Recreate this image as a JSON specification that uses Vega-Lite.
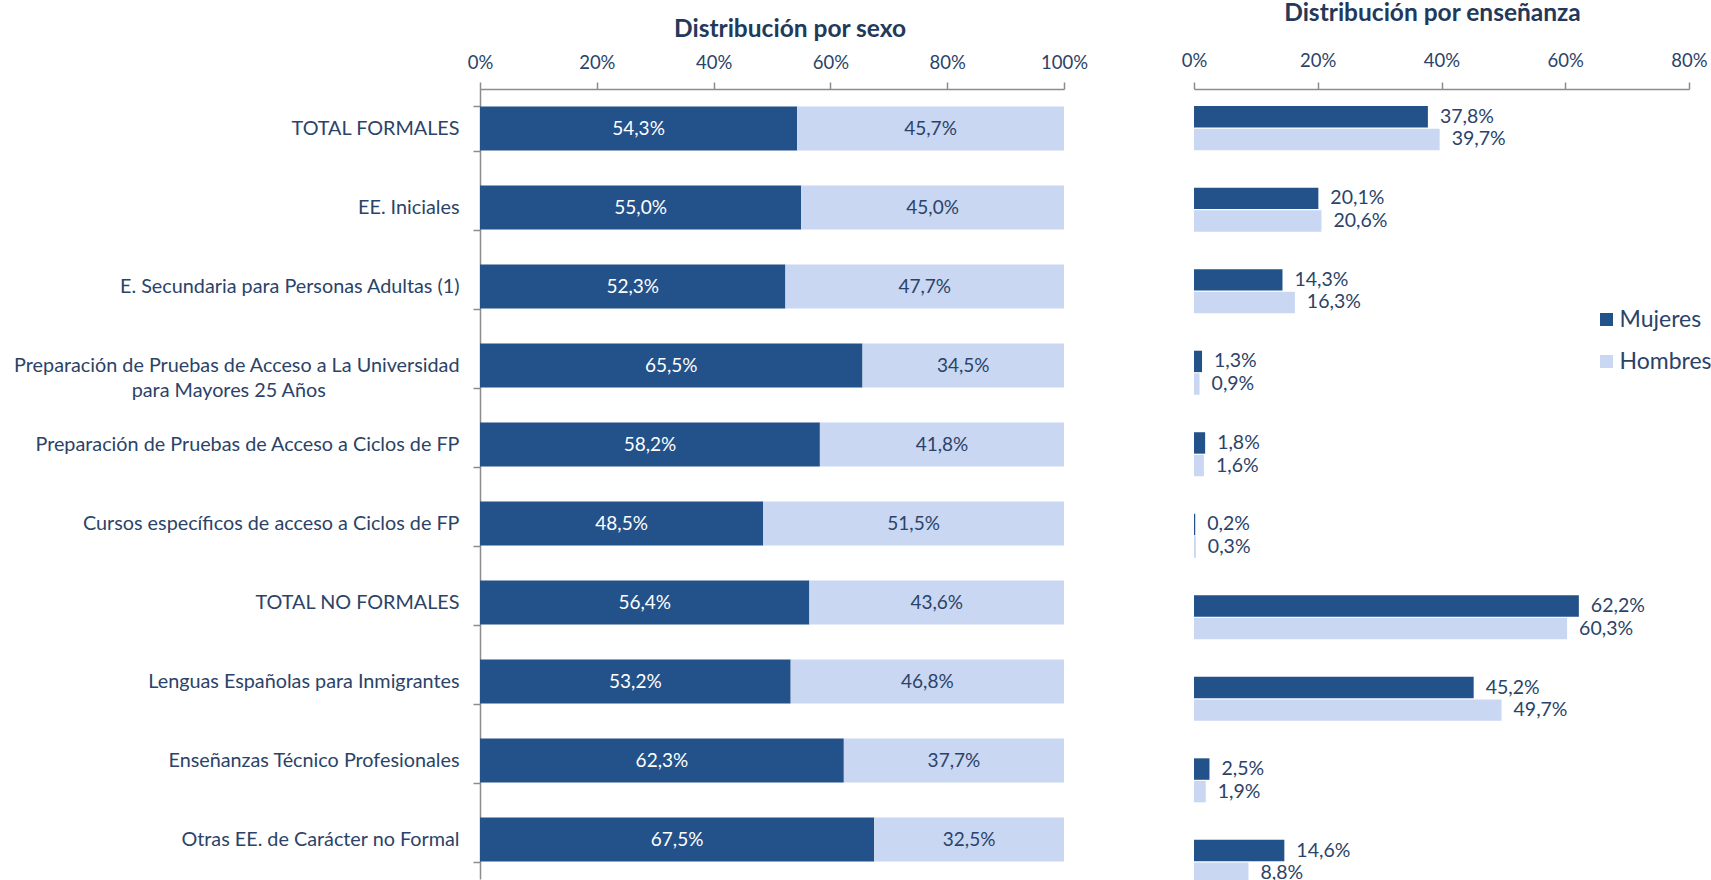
{
  "$schema": "https://vega.github.io/schema/vega-lite/v6.json",
  "autosize": "none",
  "padding": {"left": 480, "top": 89, "right": 1231, "bottom": 791},
  "background": "white",
  "config": {
    "locale": {"number": {"decimal": ",", "thousands": ".", "grouping": [3], "currency": ["", " €"]}},
    "view": {"stroke": null},
    "font": "Lato",
    "axis": {"grid": false, "title": null, "domainColor": "#8C8C8C", "domainWidth": 1.5, "tickColor": "#8C8C8C", "tickWidth": 1.5, "tickSize": 7, "labelFontSize": 18.5, "labelColor": "#2B4368", "labelOverlap": false}
  },
  "datasets": {
    "d": [
      {"cat": "TOTAL FORMALES", "sex": "Mujeres", "share": 0.543, "dist": 0.378},
      {"cat": "TOTAL FORMALES", "sex": "Hombres", "share": 0.457, "dist": 0.397},
      {"cat": "EE. Iniciales", "sex": "Mujeres", "share": 0.550, "dist": 0.201},
      {"cat": "EE. Iniciales", "sex": "Hombres", "share": 0.450, "dist": 0.206},
      {"cat": "E. Secundaria para Personas Adultas (1)", "sex": "Mujeres", "share": 0.523, "dist": 0.143},
      {"cat": "E. Secundaria para Personas Adultas (1)", "sex": "Hombres", "share": 0.477, "dist": 0.163},
      {"cat": "Preparación de Pruebas de Acceso a La Universidad|para Mayores 25 Años", "sex": "Mujeres", "share": 0.655, "dist": 0.013},
      {"cat": "Preparación de Pruebas de Acceso a La Universidad|para Mayores 25 Años", "sex": "Hombres", "share": 0.345, "dist": 0.009},
      {"cat": "Preparación de Pruebas de Acceso a Ciclos de FP", "sex": "Mujeres", "share": 0.582, "dist": 0.018},
      {"cat": "Preparación de Pruebas de Acceso a Ciclos de FP", "sex": "Hombres", "share": 0.418, "dist": 0.016},
      {"cat": "Cursos específicos de acceso a Ciclos de FP", "sex": "Mujeres", "share": 0.485, "dist": 0.002},
      {"cat": "Cursos específicos de acceso a Ciclos de FP", "sex": "Hombres", "share": 0.515, "dist": 0.003},
      {"cat": "TOTAL NO FORMALES", "sex": "Mujeres", "share": 0.564, "dist": 0.622},
      {"cat": "TOTAL NO FORMALES", "sex": "Hombres", "share": 0.436, "dist": 0.603},
      {"cat": "Lenguas Españolas para Inmigrantes", "sex": "Mujeres", "share": 0.532, "dist": 0.452},
      {"cat": "Lenguas Españolas para Inmigrantes", "sex": "Hombres", "share": 0.468, "dist": 0.497},
      {"cat": "Enseñanzas Técnico Profesionales", "sex": "Mujeres", "share": 0.623, "dist": 0.025},
      {"cat": "Enseñanzas Técnico Profesionales", "sex": "Hombres", "share": 0.377, "dist": 0.019},
      {"cat": "Otras EE. de Carácter no Formal", "sex": "Mujeres", "share": 0.675, "dist": 0.146},
      {"cat": "Otras EE. de Carácter no Formal", "sex": "Hombres", "share": 0.325, "dist": 0.088}
    ]
  },
  "bounds": "flush",
  "spacing": 130,
  "resolve": {"legend": {"color": "independent"}},
  "hconcat": [
    {
      "width": 584,
      "height": 790,
      "title": {"text": "Distribución por sexo", "fontSize": 24.5, "fontWeight": "bold", "color": "#23395B", "offset": 11, "dx": 18, "anchor": "middle"},
      "data": {"name": "d"},
      "transform": [
        {"stack": "share", "groupby": ["cat"], "sort": [{"field": "sex", "order": "descending"}], "as": ["s0", "s1"]},
        {"calculate": "(datum.s0 + datum.s1) / 2", "as": "mid"}
      ],
      "encoding": {
        "y": {
          "field": "cat", "type": "nominal", "sort": null,
          "scale": {"paddingInner": 0.443, "paddingOuter": 0.2215},
          "axis": {
            "orient": "left", "tickBand": "extent", "labelPadding": 14, "labelLimit": 0, "labelLineHeight": 25,
            "labelFontSize": 19.8, "labelAlign": "right", "labelBaseline": "middle",
            "labelExpr": "indexof(datum.label, '|') >= 0 ? [split(datum.label, '|')[0], split(datum.label, '|')[1] + '\u2007\u2007\u2007\u2007\u2007\u2007\u2007\u2007\u2007\u2007\u2007\u00a0\u2009\u200b'] : datum.label"
          }
        }
      },
      "layer": [
        {
          "mark": {"type": "bar"},
          "encoding": {
            "x": {"field": "s0", "type": "quantitative", "scale": {"domain": [0, 1]},
                  "axis": {"orient": "top", "format": "%", "values": [0, 0.2, 0.4, 0.6, 0.8, 1], "labelPadding": 10, "labelFlush": false}},
            "x2": {"field": "s1"},
            "color": {"field": "sex", "type": "nominal", "scale": {"domain": ["Mujeres", "Hombres"], "range": ["#23518A", "#C9D7F2"]}, "legend": null}
          }
        },
        {
          "mark": {"type": "text", "fontSize": 19, "baseline": "middle"},
          "encoding": {
            "x": {"field": "mid", "type": "quantitative"},
            "text": {"field": "share", "type": "quantitative", "format": ".1%"},
            "color": {"condition": {"test": "datum.sex === 'Mujeres'", "value": "#FFFFFF"}, "value": "#2B4368"}
          }
        }
      ]
    },
    {
      "width": 495,
      "height": 812,
      "title": {"text": "Distribución por enseñanza", "fontSize": 24.5, "fontWeight": "bold", "color": "#23395B", "offset": 25, "dx": -9, "anchor": "middle"},
      "data": {"name": "d"},
      "encoding": {
        "y": {"field": "cat", "type": "nominal", "sort": null, "axis": null, "scale": {"paddingInner": 0.46, "paddingOuter": 0.21}},
        "yOffset": {"field": "sex", "type": "nominal", "sort": ["Mujeres", "Hombres"], "scale": {"paddingInner": 0.05}}
      },
      "layer": [
        {
          "mark": {"type": "bar"},
          "encoding": {
            "x": {"field": "dist", "type": "quantitative", "scale": {"domain": [0, 0.8]},
                  "axis": {"orient": "top", "format": "%", "values": [0, 0.2, 0.4, 0.6, 0.8], "labelPadding": 11.5, "labelFlush": false}},
            "color": {"field": "sex", "type": "nominal", "scale": {"domain": ["Mujeres", "Hombres"], "range": ["#23518A", "#C9D7F2"]},
                      "legend": {"orient": "none", "legendX": 401, "legendY": 219, "title": null, "symbolType": "square", "symbolSize": 169,
                                 "symbolStrokeWidth": 0, "labelFontSize": 23, "labelColor": "#2B4368", "rowPadding": 18, "labelOffset": 1.5, "padding": 0}}
          }
        },
        {
          "mark": {"type": "text", "fontSize": 19.5, "align": "left", "baseline": "middle", "dx": 12, "color": "#2B4368"},
          "encoding": {
            "x": {"field": "dist", "type": "quantitative"},
            "text": {"field": "dist", "type": "quantitative", "format": ".1%"}
          }
        }
      ]
    }
  ]
}
